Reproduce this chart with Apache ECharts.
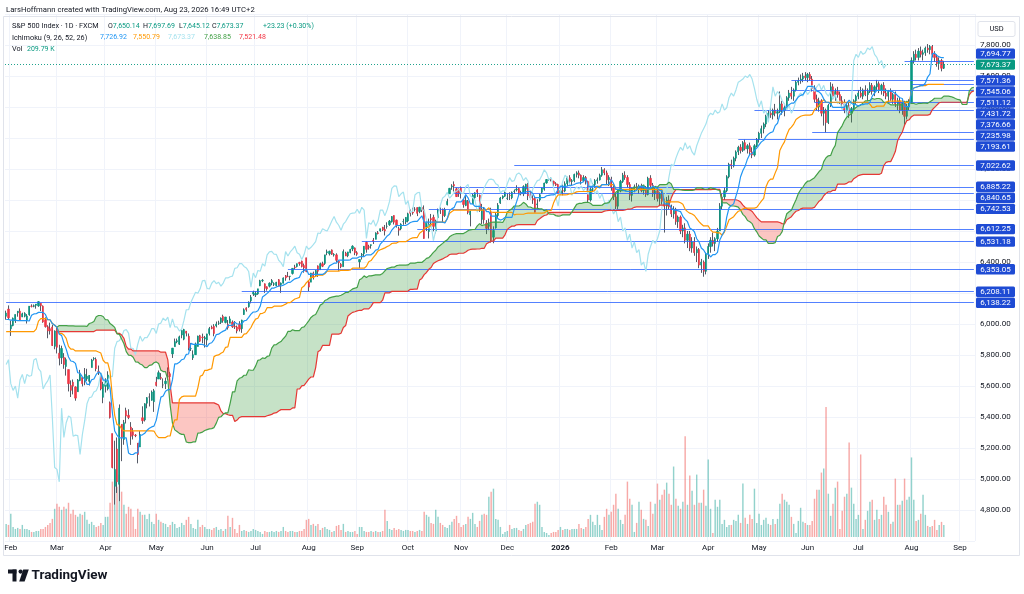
<!DOCTYPE html>
<html>
<head>
<meta charset="utf-8">
<title>S&amp;P 500 Index · 1D · FXCM</title>
<script src="https://cdn.jsdelivr.net/npm/echarts@6/dist/echarts.min.js"></script>
<style>
html,body{margin:0;padding:0;background:#ffffff;}
#chart{width:1024px;height:594px;}
</style>
</head>
<body>
<div id="chart"></div>
<script>
// ---------------- DATA ----------------
// history before the visible window (needed by the Ichimoku windows): highs / lows
const preHigh = [5915,5908,5920,5920,5965,5973,6020,6025,6021,6012,6045,6053,6055,6089,6085,6100,6090,6066,6092,6080,6078,6085,6057,6070,5935,5982,5978,6040,6045,6050,6007,5941,5929,5890,5935,5950,6021,6000,5930,5930,5890,5850,5871,5960,5965,6011,6040,6052,6100,6120,6128,6018,6070,6060];
const preLow  = [5853,5865,5850,5860,5885,5945,5963,5992,5985,5995,6000,6022,6035,6050,6070,6075,6044,6024,6047,6048,6035,6050,6030,5865,5865,5832,5903,5982,6030,6004,5932,5880,5870,5870,5843,5880,5960,5890,5875,5900,5800,5773,5805,5890,5930,5980,5995,6010,6065,6070,6090,5930,5995,6010];

// visible daily bars, first bar = 2025-01-30
const openP = [6050,6096,
5969,5990,6020,6072,6083,6046,6050,6025,6060,6115,6114,6121,6117,6134,6115,6027,5982,5970,5981,5856,
5968,5812,5782,5785,5726,5706,5603,5624,5594,5563,5635,5655,5632,5646,5630,5719,5775,5771,5695,5679,5527,
5598,5581,5492,5293,4953,5193,4966,5353,5255,5441,5411,5335,5305,5283,5232,5207,5395,5381,5489,5529,5508,5499,
5625,5645,5655,5607,5615,5663,5679,5807,5854,5886,5870,5929,5902,5954,5921,5841,5782,5802,5855,5925,5915,5903,
5896,5939,5979,5985,5987,6005,6010,6049,6010,5997,6005,6013,5984,5981,5999,5970,6061,6104,6112,6150,6193,
6187,6194,6247,6279,6259,6240,6244,6266,6256,6248,6286,6254,6263,6311,6306,6307,6326,6368,6371,6397,6406,6377,6427,
6272,6270,6329,6310,6375,6350,6389,6391,6460,6453,6478,6445,6446,6406,6386,6370,6457,6441,6461,6484,6491,
6460,6401,6444,6454,6527,6498,6506,6540,6546,6588,6600,6624,6610,6630,6641,6660,6700,6670,6615,6615,6660,6658,
6665,6732,6722,6740,6751,6726,6752,6736,6625,6597,6680,6688,6600,6686,6736,6740,6700,6770,6840,6885,6900,6872,6870,
6880,6800,6765,6790,6705,6775,6815,6865,6830,6675,6733,6650,6630,6720,6560,6620,6700,6780,6813,6825,
6810,6830,6815,6855,6865,6875,6845,6840,6870,6900,6850,6810,6810,6770,6800,6850,6870,6910,6932,6935,6920,6905,6900,
6845,6860,6858,6905,6944,6920,6925,6965,6975,6960,6925,6945,6920,6800,6870,6900,6925,6930,6960,6995,6975,6930,
6935,6880,6820,6760,6860,6920,6960,6945,6900,6830,6865,6885,6870,6890,6860,6880,6835,6940,6895,6840,
6860,6810,6840,6790,6760,6800,6755,6710,6740,6660,6690,6600,6620,6540,6580,6490,6530,6460,6480,6380,6400,6340,
6450,6500,6540,6520,6550,6600,6760,6820,6860,6950,7030,7020,7070,7110,7140,7120,7170,7130,7150,7110,7090,7150,
7190,7230,7260,7290,7340,7360,7350,7380,7360,7370,7420,7380,7395,7460,7490,7470,7510,7560,7570,7580,7600,
7590,7610,7580,7520,7450,7400,7440,7360,7380,7300,7410,7530,7470,7500,7480,7440,7420,7380,7410,7360,7390,7440,
7470,7490,7470,7510,7480,7500,7540,7500,7530,7550,7510,7540,7490,7470,7500,7450,7480,7420,7440,7380,7430,7340,7400,
7430,7700,7740,7720,7760,7740,7750,7780,7770,7790,7740,7720,7680,7700,7650.14];

const highP = [6086,6120,
6022,6042,6062,6084,6101,6073,6076,6064,6116,6127,6126,6129,6147,6134,6120,6043,5992,6009,5994,5959,
5987,5866,5860,5812,5783,5706,5636,5642,5598,5645,5704,5656,5716,5711,5670,5775,5786,5784,5732,5685,5627,
5650,5695,5500,5293,5247,5268,5481,5353,5381,5460,5450,5367,5328,5290,5232,5309,5469,5489,5528,5553,5571,5581,
5659,5700,5683,5649,5654,5720,5691,5846,5906,5906,5925,5959,5969,5955,5939,5878,5830,5880,5925,5930,5938,5923,
5937,5981,5990,5999,6016,6021,6043,6060,6046,6026,6050,6023,6019,5990,6018,6028,6101,6108,6146,6187,6215,
6211,6227,6285,6290,6262,6243,6269,6290,6269,6272,6290,6268,6301,6316,6336,6310,6360,6382,6390,6401,6409,6390,6428,
6280,6330,6338,6349,6378,6396,6402,6446,6480,6473,6481,6457,6456,6409,6393,6481,6466,6466,6485,6508,6494,
6470,6416,6458,6502,6532,6511,6513,6555,6592,6600,6615,6627,6639,6656,6671,6696,6701,6674,6628,6650,6679,6689,
6718,6739,6750,6754,6753,6756,6756,6765,6665,6680,6710,6705,6673,6745,6752,6745,6750,6808,6878,6902,6920,6880,6875,
6887,6805,6825,6800,6730,6840,6850,6870,6835,6775,6755,6670,6680,6750,6630,6720,6780,6820,6830,6855,
6843,6850,6855,6868,6895,6880,6860,6895,6905,6910,6860,6830,6820,6805,6840,6880,6912,6935,6940,6945,6925,6915,6905,
6870,6900,6920,6950,6960,6935,6970,6985,6990,6965,6960,6955,6925,6880,6910,6935,6945,6970,7013,7005,6990,6960,
6950,6900,6840,6870,6930,6975,6985,6960,6915,6880,6900,6910,6900,6905,6895,6890,6950,6960,6910,6880,
6880,6850,6870,6810,6820,6830,6770,6760,6750,6700,6700,6640,6650,6600,6600,6560,6560,6500,6490,6420,6410,6460,
6520,6560,6590,6560,6620,6780,6840,6880,6960,7040,7060,7080,7120,7150,7160,7180,7190,7160,7170,7140,7160,7200,
7240,7280,7300,7350,7380,7400,7390,7420,7390,7500,7440,7410,7470,7510,7530,7520,7570,7590,7610,7620,7625,
7620,7625,7600,7540,7480,7460,7450,7400,7390,7420,7560,7550,7520,7530,7500,7470,7450,7430,7430,7400,7450,7480,
7510,7530,7520,7540,7520,7560,7555,7540,7575,7565,7550,7560,7520,7510,7520,7490,7500,7460,7460,7450,7440,7420,7450,
7720,7760,7770,7780,7790,7770,7790,7806,7800,7800,7760,7740,7720,7710,7697.69];

const lowP = [6028,6030,
5923,5985,6007,6047,6020,6044,6043,6003,6053,6107,6108,6099,6111,6084,6008,5977,5908,5932,5858,5837,
5810,5733,5742,5711,5667,5565,5529,5546,5505,5563,5631,5597,5605,5633,5603,5719,5764,5695,5671,5572,5489,
5558,5571,5390,5069,4835,4910,4857,5115,5221,5358,5386,5220,5255,5270,5101,5207,5356,5371,5456,5468,5505,5433,
5597,5645,5640,5586,5580,5639,5644,5781,5854,5876,5865,5908,5895,5920,5830,5826,5768,5800,5855,5884,5876,5848,
5861,5926,5966,5921,5978,5994,6000,6008,6004,5964,6005,5975,5968,5940,5952,5943,6059,6080,6105,6133,6181,
6174,6188,6244,6270,6201,6215,6236,6250,6245,6242,6243,6201,6262,6279,6303,6282,6319,6354,6365,6376,6365,6331,6334,
6212,6270,6287,6305,6304,6350,6367,6381,6444,6442,6446,6435,6400,6343,6360,6370,6438,6431,6456,6470,6444,
6440,6361,6416,6437,6460,6480,6486,6516,6546,6578,6595,6600,6571,6615,6633,6654,6642,6622,6570,6605,6640,6644,
6656,6694,6705,6726,6696,6715,6722,6550,6600,6552,6625,6598,6585,6686,6710,6655,6690,6765,6840,6866,6855,6820,6820,
6810,6750,6760,6708,6630,6775,6800,6820,6723,6645,6647,6580,6605,6525,6521,6615,6680,6775,6805,6820,
6800,6800,6805,6840,6855,6835,6830,6825,6840,6800,6800,6775,6720,6740,6790,6840,6860,6905,6925,6920,6890,6890,6842,
6835,6830,6850,6890,6910,6890,6915,6945,6940,6900,6915,6900,6785,6790,6850,6880,6905,6925,6950,6960,6900,6890,
6860,6800,6725,6740,6850,6910,6930,6880,6800,6790,6850,6860,6840,6850,6835,6820,6830,6880,6820,6800,
6790,6760,6770,6590,6700,6740,6690,6680,6640,6620,6580,6560,6520,6490,6470,6460,6440,6400,6360,6330,6305,6320,
6420,6460,6500,6470,6530,6600,6740,6800,6850,6940,7000,7010,7050,7090,7100,7110,7120,7100,7090,7070,7080,7140,
7170,7200,7230,7270,7310,7330,7320,7340,7320,7360,7350,7340,7380,7440,7450,7440,7500,7540,7550,7560,7570,
7560,7570,7500,7430,7380,7370,7340,7280,7236,7290,7400,7450,7440,7460,7420,7390,7360,7350,7330,7300,7380,7420,
7450,7460,7450,7470,7440,7490,7480,7470,7510,7490,7480,7470,7450,7430,7440,7420,7400,7380,7360,7350,7285,7320,7380,
7420,7680,7700,7700,7720,7700,7730,7750,7740,7720,7690,7660,7640,7630,7645.12];

const closeP = [6071,6040,
5994,6037,6061,6083,6026,6066,6068,6052,6115,6114,6118,6129,6144,6117,6013,5983,5955,5956,5861,5955,
5850,5779,5842,5739,5770,5615,5572,5599,5522,5639,5675,5615,5675,5663,5668,5767,5777,5712,5693,5581,5612,
5633,5671,5397,5074,5062,4982,5457,5268,5363,5406,5397,5276,5283,5280,5158,5287,5376,5485,5525,5529,5561,5569,
5604,5686,5650,5607,5631,5664,5660,5844,5886,5892,5917,5958,5964,5941,5845,5842,5802,5870,5922,5889,5912,5912,
5936,5970,5971,5939,6000,6006,6038,6022,6045,5977,6033,5982,5981,5955,5967,6025,6092,6092,6141,6173,6205,
6198,6227,6279,6282,6230,6226,6263,6280,6260,6269,6244,6264,6297,6297,6305,6309,6359,6363,6389,6390,6371,6362,6339,
6238,6329,6299,6345,6340,6389,6373,6446,6466,6469,6450,6449,6411,6396,6370,6467,6439,6465,6481,6502,6460,
6450,6416,6448,6502,6482,6495,6512,6532,6587,6584,6615,6606,6600,6631,6664,6693,6657,6637,6605,6644,6661,6688,
6711,6715,6716,6740,6714,6753,6735,6552,6654,6644,6671,6630,6664,6735,6735,6699,6738,6791,6875,6891,6890,6822,6840,
6851,6771,6796,6720,6728,6832,6846,6850,6737,6734,6672,6617,6642,6538,6603,6705,6766,6813,6825,6849,
6812,6829,6849,6857,6870,6846,6840,6886,6901,6827,6816,6800,6721,6775,6834,6878,6909,6932,6935,6930,6905,6896,6845,
6860,6858,6905,6944,6920,6925,6965,6975,6960,6925,6945,6920,6800,6870,6900,6925,6930,6960,6995,6975,6930,6945,
6880,6820,6760,6860,6920,6960,6945,6900,6830,6865,6885,6870,6890,6860,6880,6835,6940,6895,6840,6860,
6810,6840,6790,6760,6800,6755,6710,6740,6660,6690,6600,6620,6540,6580,6490,6530,6460,6480,6380,6400,6340,6450,
6500,6540,6520,6550,6600,6760,6820,6860,6950,7030,7020,7070,7110,7140,7120,7170,7130,7150,7110,7090,7150,7190,
7230,7260,7290,7340,7360,7350,7380,7360,7370,7420,7380,7395,7460,7490,7470,7510,7560,7570,7580,7600,7590,
7610,7580,7520,7450,7400,7440,7360,7380,7300,7410,7530,7470,7500,7480,7440,7420,7380,7410,7360,7390,7440,7470,
7490,7470,7510,7480,7500,7540,7500,7530,7550,7510,7540,7490,7470,7500,7450,7480,7420,7440,7380,7430,7340,7400,7430,
7700,7740,7720,7760,7740,7750,7780,7770,7790,7740,7720,7680,7700,7650,7673.37];

// volume in thousands
const volumeK = [228,210,403,175,140,158,140,210,140,140,123,
88,88,105,105,140,140,175,210,245,315,490,
578,525,
473,525,490,595,403,473,385,350,403,385,438,
298,228,263,210,175,193,245,210,350,
350,595,
963,1138,875,1085,788,
560,403,525,490,350,140,490,438,385,
385,315,403,263,228,403,298,263,245,228,
175,210,263,228,158,175,245,210,298,
350,228,158,140,298,175,210,175,140,
140,123,158,175,123,140,105,140,368,175,333,
140,70,210,105,123,105,88,105,140,123,105,
88,53,105,88,88,105,88,105,88,105,175,
105,88,105,105,88,88,105,105,140,298,
315,210,228,193,228,123,158,175,140,123,88,
105,193,210,123,228,88,105,88,88,105,53,175,
175,105,88,88,105,88,105,88,88,105,473,
280,140,123,158,123,140,123,105,123,123,105,
105,88,105,123,
105,438,385,350,245,228,473,350,245,210,175,158,210,263,315,368,245,175,210,228,350,315,420,228,175,280,385,403,385,
700,788,840,315,298,175,53,88,
105,210,140,158,158,123,105,140,210,228,245,263,578,
613,560,175,88,70,35,70,88,88,123,175,123,140,
140,123,140,140,140,228,158,140,
175,315,385,263,210,385,210,123,350,490,385,
438,560,753,490,298,228,385,963,665,560,88,245,613,473,315,298,193,613,403,578,
928,648,735,823,945,753,560,1225,665,543,490,613,1750,560,1068,805,560,1085,595,595,823,543,1348,
490,70,648,525,648,228,298,175,210,210,298,280,
385,245,928,333,228,385,315,840,245,403,210,
298,333,228,210,315,228,315,578,753,648,613,560,
350,228,70,280,508,263,245,210,210,
280,665,823,823,1120,1190,2258,753,368,578,858,963,140,455,700,753,1645,858,578,315,385,1435,140,298,455,613,648,298,473,315,385,700,560,438,228,263,1015,560,560,630,1015,648,700,1383,648,280,298,403,735,385,193,175,193,298,123,210,263,209.79];

// horizontal price levels drawn on the chart and the bar where each one starts
const levelPrices   = [7694.77,7571.36,7545.06,7511.12,7431.72,7376.66,7235.98,7193.61,7022.62,6885.22,6840.65,6742.53,6612.25,6531.18,6353.05,6208.11,6138.22];
const levelStartBar = [389,340,392,340,350,324,349,317,220,194,194,183,178,154,122,102,0];
const lastPrice = 7673.37;

// tick labels
const monthNames = ['Jan','Feb','Mar','Apr','May','Jun','Jul','Aug','Sep','Oct','Nov','Dec'];
const priceMin = 4600, priceMax = 8000, priceStep = 200;

// legend texts
const headerText = 'LarsHoffmann created with TradingView.com, Aug 23, 2026 16:49 UTC+2';
const legendOHLC = [['O','7,650.14'],['H','7,697.69'],['L','7,645.12'],['C','7,673.37']];
const legendChange = '+23.23 (+0.30%)';
const ichimokuValues = ['7,726.92','7,550.79','7,673.37','7,638.85','7,521.48'];
const volText = '209.79 K';

// ---------------- BUILD ----------------
const N = closeP.length;          // visible bars
const AXIS_BARS = 420;            // bars on the time axis (room to the right)
const P = preHigh.length;
const SHIFT = 25;                 // Ichimoku displacement 26 (offset 25)

const categories = [];
(function(){ const d = new Date(Date.UTC(2025,0,30));
  while (categories.length < AXIS_BARS) { const w = d.getUTCDay();
    if (w !== 0 && w !== 6) categories.push(d.toISOString().slice(0,10));
    d.setUTCDate(d.getUTCDate()+1); } })();
const isMonthStart = categories.map((c,i)=> i>0 && c.slice(5,7) !== categories[i-1].slice(5,7));

const allH = preHigh.concat(highP), allL = preLow.concat(lowP);
function donchian(k, len){
  if (k-len+1 < 0 || k >= allH.length) return null;
  let hi=-Infinity, lo=Infinity;
  for (let j=k-len+1;j<=k;j++){ if(allH[j]>hi)hi=allH[j]; if(allL[j]<lo)lo=allL[j]; }
  return (hi+lo)/2;
}
const tenkan=[], kijun=[], spanA=[], spanB=[], lagging=[];
for (let i=0;i<AXIS_BARS;i++){
  const k=i+P;
  tenkan.push(i<N ? donchian(k,9) : null);
  kijun.push(i<N ? donchian(k,26) : null);
  const ks=k-SHIFT, t=donchian(ks,9), kj=donchian(ks,26), b=donchian(ks,52);
  spanB.push(b);
  spanA.push(t!=null && kj!=null && b!=null ? (t+kj)/2 : null);
  lagging.push(i+SHIFT<N ? closeP[i+SHIFT] : null);
}

const UP='#089981', DN='#F23645', WICK='#555A66', DARK='#131722';
const FONT='Roboto, "Noto Sans", sans-serif';
const candleFull = openP.map((o,i)=>[o, closeP[i], lowP[i], highP[i]]);
const candleBody = openP.map((o,i)=>[o, closeP[i], Math.min(o,closeP[i]), Math.max(o,closeP[i])]);
const volData = volumeK.map((v,i)=>({value:v, itemStyle:{color: closeP[i]>=openP[i] ? 'rgba(38,166,154,0.5)' : 'rgba(239,83,80,0.5)'}}));

function renderCloud(params, api){
  const c0 = api.coord([0, 6000]), c1 = api.coord([1, 6000]);
  const band = c1[0]-c0[0];
  const X = x => c0[0] + x*band;
  const Y = v => api.coord([0, v])[1];
  const runs=[]; let cur=null;
  for (let i=0;i<AXIS_BARS;i++){
    const a=spanA[i], b=spanB[i];
    if (a==null || b==null){ cur=null; continue; }
    const s = a>=b ? 1 : -1;
    if (!cur){ cur={s,pts:[[i,a,b]]}; runs.push(cur); continue; }
    if (s===cur.s){ cur.pts.push([i,a,b]); continue; }
    const p=cur.pts[cur.pts.length-1];
    const d0=p[1]-p[2], d1=a-b, t=d0/(d0-d1);
    const xm=p[0]+t, ym=p[1]+(a-p[1])*t;
    cur.pts.push([xm,ym,ym]);
    cur={s,pts:[[xm,ym,ym],[i,a,b]]}; runs.push(cur);
  }
  const children = runs.filter(r=>r.pts.length>1).map(r=>{
    const top=r.pts.map(q=>[X(q[0]),Y(q[1])]);
    const bot=r.pts.slice().reverse().map(q=>[X(q[0]),Y(q[2])]);
    return {type:'polygon', shape:{points:top.concat(bot)},
      style:{fill: r.s>0 ? 'rgba(67,160,71,0.3)' : 'rgba(244,67,54,0.3)'}};
  });
  return {type:'group', children};
}

const fmtPrice = v => v.toLocaleString('en-US',{minimumFractionDigits:2, maximumFractionDigits:2});

const lineSeries = (name, data, color, z, extra) => Object.assign({
  name, type:'line', data, symbol:'none', showSymbol:false, smooth:false, connectNulls:false,
  lineStyle:{color, width:1.2}, itemStyle:{color}, z, silent:true, emphasis:{disabled:true}
}, extra||{});

const markLines = levelPrices.map((v,j)=>[
  {coord:[categories[levelStartBar[j]], v], lineStyle:{color:'#2962FF', width:1, type:'solid', opacity:0.8}},
  {coord:[categories[AXIS_BARS-1], v]}
]);
markLines.push({yAxis:lastPrice, lineStyle:{color:UP, width:1, type:[1,2], opacity:0.9}});

const chart = echarts.init(document.getElementById('chart'), null, {renderer:'canvas'});
const option = {
  animation:false,
  backgroundColor:'#ffffff',
  textStyle:{fontFamily:FONT},
  grid:[
    {left:5, right:49, top:14, height:527},
    {left:5, right:49, top:407, height:130}
  ],
  xAxis:[
    {type:'category', gridIndex:0, data:categories, boundaryGap:true,
     axisLine:{show:false}, axisTick:{show:false},
     axisLabel:{interval:(i)=>isMonthStart[i], margin:3, fontSize:8, color:DARK, fontFamily:FONT,
       formatter:(v)=>{ const m=+v.slice(5,7)-1; return m===0 ? '{b|'+v.slice(0,4)+'}' : monthNames[m]; },
       rich:{b:{fontWeight:'bold', fontSize:8, color:DARK, fontFamily:FONT}}},
     splitLine:{show:true, interval:(i)=>isMonthStart[i], lineStyle:{color:'#F0F3FA', width:1}}},
    {type:'category', gridIndex:1, data:categories, boundaryGap:true, show:false}
  ],
  yAxis:[
    {type:'value', gridIndex:0, position:'right', min:priceMin, max:priceMax, interval:priceStep,
     axisLine:{show:false}, axisTick:{show:false},
     axisLabel:{fontSize:8, color:DARK, margin:5, fontFamily:FONT, showMinLabel:false, showMaxLabel:false, formatter:fmtPrice},
     splitLine:{show:true, lineStyle:{color:'#F0F3FA', width:1}}},
    {type:'value', gridIndex:1, min:0, max:2260, show:false, splitLine:{show:false}}
  ],
  series:[
    {name:'Volume', type:'bar', xAxisIndex:1, yAxisIndex:1, data:volData, barWidth:'62%', z:1, silent:true, emphasis:{disabled:true}},
    {name:'Wicks', type:'candlestick', xAxisIndex:0, yAxisIndex:0, data:candleFull, barWidth:1, z:2, silent:true,
     itemStyle:{color:WICK, color0:WICK, borderColor:WICK, borderColor0:WICK, borderColorDoji:WICK, borderWidth:1}},
    {name:'Bodies', type:'candlestick', xAxisIndex:0, yAxisIndex:0, data:candleBody, barWidth:1.7, z:3, silent:true,
     itemStyle:{color:UP, color0:DN, borderColor:UP, borderColor0:DN, borderColorDoji:WICK, borderWidth:0.6}},
    {name:'Cloud', type:'custom', xAxisIndex:0, yAxisIndex:0, data:[[0,6000]], renderItem:renderCloud, z:4, silent:true, clip:true},
    lineSeries('Lagging Span', lagging, '#A5E2EE', 5),
    lineSeries('Leading Span B', spanB, '#E53935', 6),
    lineSeries('Leading Span A', spanA, '#43A047', 6),
    lineSeries('Base Line', kijun, '#FF9800', 7),
    lineSeries('Conversion Line', tenkan, '#2196F3', 8, {
      markLine:{silent:true, symbol:['none','none'], label:{show:false}, animation:false,
        emphasis:{disabled:true}, data:markLines}
    })
  ]
};
chart.setOption(option);

// ---------------- overlays: legend, price tags, frame ----------------
const G=[];
function txt(x,y,text,fill,size,weight,align){
  return {type:'text', x, y, z:100, silent:true,
    style:{text, fill, font:(weight||'normal')+' '+size+'px '+FONT, align:align||'left', verticalAlign:'middle'}};
}
function rich(x,y,text,richDef,size){
  return {type:'text', x, y, z:100, silent:true,
    style:{text, font:size+'px '+FONT, rich:richDef, align:'left', verticalAlign:'middle'}};
}
const LF = 7;  // legend font size
G.push({type:'rect', z:99, silent:true, shape:{x:3.5,y:16.5,width:1016,height:539}, style:{fill:'none', stroke:'#E0E3EB', lineWidth:1}});
G.push(txt(6,10,headerText,DARK,7.7));
const rd = {d:{fill:DARK,color:DARK,fontSize:LF,fontFamily:FONT}, g:{fill:UP,color:UP,fontSize:LF,fontFamily:FONT}};
G.push(txt(12,26,'S&P 500 Index · 1D · FXCM',DARK,LF+0.3));
const ohlcX=[108,143,179,212];
legendOHLC.forEach((p,j)=>G.push(rich(ohlcX[j],26,'{d|'+p[0]+'}{g|'+p[1]+'}',rd,LF)));
G.push(txt(263,26,legendChange,UP,LF));
G.push(txt(12,37.7,'Ichimoku (9, 26, 52, 26)',DARK,LF+0.3));
const ichX=[100,133,168,204,239], ichC=['#2196F3','#FF9800','#A5E2EE','#43A047','#F23645'];
ichimokuValues.forEach((v,j)=>G.push(txt(ichX[j],37.7,v,ichC[j],LF)));
G.push(txt(12,49.6,'Vol',DARK,LF+0.3));
G.push(txt(27,49.6,volText,UP,LF));

// USD box
G.push({type:'rect', z:100, silent:true, shape:{x:978,y:21.5,width:37,height:15,r:2}, style:{fill:'#ffffff', stroke:'#E0E3EB', lineWidth:1}});
G.push(txt(996.5,29,'USD',DARK,7.5,'normal','center'));

// price tags (stacked so they do not overlap)
const py = v => chart.convertToPixel({yAxisIndex:0}, v);
const TH=11, TAGH=10.4;
const curY = py(lastPrice);
const tags = levelPrices.map(v=>({v, y:py(v)}));
let lim = curY;
tags.filter(t=>t.v>lastPrice).sort((a,b)=>b.y-a.y).forEach(t=>{ t.ty=Math.min(t.y, lim-TH); lim=t.ty; });
lim = curY;
tags.filter(t=>t.v<lastPrice).sort((a,b)=>a.y-b.y).forEach(t=>{ t.ty=Math.max(t.y, lim+TH); lim=t.ty; });
function tag(y, v, color){
  G.push({type:'rect', z:101, silent:true, shape:{x:976,y:y-TAGH/2,width:39,height:TAGH,r:1.5}, style:{fill:color}});
  G.push(Object.assign(txt(995.5,y+0.3,fmtPrice(v),'#ffffff',8,'normal','center'),{z:102}));
}
tags.forEach(t=>tag(t.ty, t.v, '#1E4BD4'));
tag(curY, lastPrice, UP);

// TradingView mark
G.push({type:'rect', z:100, silent:true, shape:{x:8,y:569.5,width:8.5,height:4}, style:{fill:DARK}});
G.push({type:'rect', z:100, silent:true, shape:{x:12.5,y:569.5,width:4,height:12}, style:{fill:DARK}});
G.push({type:'circle', z:100, silent:true, shape:{cx:20.6,cy:571.6,r:2.1}, style:{fill:DARK}});
G.push({type:'polygon', z:100, silent:true, shape:{points:[[23.2,569.5],[28.8,569.5],[24.6,581.5],[19.2,581.5]]}, style:{fill:DARK}});
G.push(txt(31.5,576,'TradingView',DARK,13.5,'bold'));

chart.setOption({graphic:G});
</script>
</body>
</html>
